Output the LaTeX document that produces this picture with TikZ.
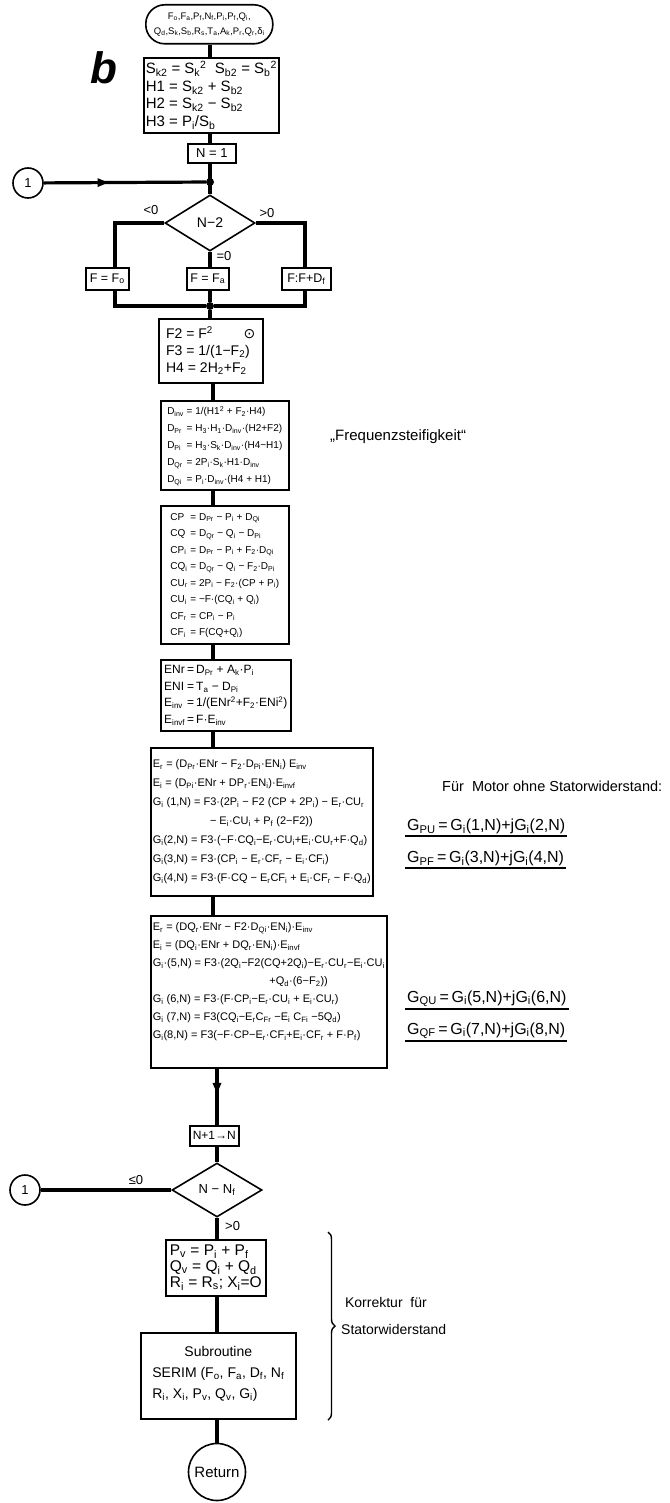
\documentclass[tikz,border=0pt]{standalone}
\usepackage{fontspec}
\setmainfont{Liberation Sans}
\newfontfamily\symfont{DejaVu Sans}
\usetikzlibrary{positioning, arrows.meta, shapes.geometric, decorations.markings, decorations.pathreplacing}
\newcommand{\sbs}[1]{\textsubscript{#1}}
\newcommand{\sps}[1]{\textsuperscript{#1}}

\begin{document}
\begin{tikzpicture}[
  x=1pt, y=-1pt,
  box/.style={
    rectangle, draw=black, line width=1.6pt, anchor=north west,
    align=left, inner sep=2pt, minimum width=#1
  },
  dia/.style={diamond, draw=black, line width=1.6pt, inner sep=0pt,
    minimum width=90pt, minimum height=56pt},
  con/.style={circle, draw=black, line width=1.6pt, inner sep=0pt, minimum size=#1},
  dot/.style={circle, fill=black, inner sep=0pt, minimum size=8pt},
  lbl/.style={inner sep=1pt, font=\fontsize{13}{15}\selectfont},
  note/.style={inner sep=2pt, anchor=west},
  ln/.style={line width=3.2pt},
  ul/.style={line width=1.8pt},
  midarr/.style={postaction={decorate}, decoration={markings,
    mark=at position #1 with {\arrow{Triangle[length=11pt, width=8pt]}}}},
]
\useasboundingbox (0,0) rectangle (669,1503);

%% routing columns
\coordinate (axT) at (210,0);
\coordinate (axL) at (115,0);
\coordinate (axR) at (305,0);
\coordinate (axM) at (213,0);
\coordinate (axB) at (217,0);

%% Input
\node[box=127pt, minimum height=39pt, rounded corners=19pt, align=center,
  inner sep=1pt, font=\fontsize{9.5}{15}\selectfont] (inp) at (145,4)
  {F\sbs{o},F\sbs{a},P\sbs{f},N\sbs{f},P\sbs{i},P\sbs{f},Q\sbs{i},\\
   Q\sbs{d},S\sbs{k},S\sbs{b},R\sbs{s},T\sbs{a},A\sbs{k},P\sbs{r},Q\sbs{r},δ\sbs{i}};

\node[font=\fontsize{44}{44}\selectfont\bfseries\itshape] (tag) at (104,68) {b};

%% Preparation
\node[box=129pt, minimum height=75pt, inner ysep=1pt,
  font=\fontsize{15}{17.5}\selectfont] (sk) at (143,57)
  {S\sbs{k2} = S\sbs{k}\sps{2}\ \ S\sbs{b2} = S\sbs{b}\sps{2}\\
   H1 = S\sbs{k2} + S\sbs{b2}\\
   H2 = S\sbs{k2} − S\sbs{b2}\\
   H3 = P\sbs{i}/S\sbs{b}};

\node[box=48pt, minimum height=19pt, inner sep=1pt, align=center,
  font=\fontsize{13}{15}\selectfont] (n1) at (187,143) {N = 1};

%% Loop entry and branch
\node[dot] (j1) at (210,182) {};
\node[con=30pt, font=\fontsize{13}{15}\selectfont] (c1) at (28,183) {1};
\node[dia, font=\fontsize{14}{16}\selectfont] (d1) at (210,223) {N−2};
\node[lbl] (lt) at (151,210) {<0};
\node[lbl] (gt) at (267,213) {>0};
\node[lbl] (eq) at (224,256) {=0};

\node[box=43pt, minimum height=22pt, inner sep=1pt,
  font=\fontsize{12.5}{14}\selectfont] (fo) at (85,267) {F = F\sbs{o}};
\node[box=42pt, minimum height=22pt, inner sep=1pt,
  font=\fontsize{12.5}{14}\selectfont] (fa) at (186,267) {F = F\sbs{a}};
\node[box=49pt, minimum height=22pt, inner sep=1pt,
  font=\fontsize{12.5}{14}\selectfont] (fd) at (281,267) {F:F+D\sbs{f}};
\node[dot] (j2) at (210,306) {};

%% Frequency terms
\node[box=104pt, minimum height=64pt, font=\fontsize{14}{17}\selectfont] (f2) at (158,318)
  {F2 = F\sps{2}\hspace{2.2em}{\symfont ⊙}\\
   F3 = 1/(1−F\sbs{2})\\
   H4 = 2H\sbs{2}+F\sbs{2}};

\node[box=128pt, minimum height=89pt, font=\fontsize{10}{17}\selectfont] (dinv) at (160,400)
  {\begin{tabular}{@{}l@{\ =\ }l@{}}
   D\sbs{inv} & 1/(H1\sps{2} + F\sbs{2}·H4)\\
   D\sbs{Pr} & H\sbs{3}·H\sbs{1}·D\sbs{inv}·(H2+F2)\\
   D\sbs{Pi} & H\sbs{3}·S\sbs{k}·D\sbs{inv}·(H4−H1)\\
   D\sbs{Qr} & 2P\sbs{i}·S\sbs{k}·H1·D\sbs{inv}\\
   D\sbs{Qi} & P\sbs{i}·D\sbs{inv}·(H4 + H1)
   \end{tabular}};
\node[note, font=\fontsize{15}{17}\selectfont] (frq) at (328,437) {„Frequenzsteifigkeit“};

\node[box=128pt, minimum height=138pt, font=\fontsize{10}{16.5}\selectfont] (cp) at (160,505)
  {\begin{tabular}{@{}l@{\ =\ }l@{}}
   CP & D\sbs{Pr} − P\sbs{i} + D\sbs{Qi}\\
   CQ & D\sbs{Qr} − Q\sbs{i} − D\sbs{Pi}\\
   CP\sbs{i} & D\sbs{Pr} − P\sbs{i} + F\sbs{2}·D\sbs{Qi}\\
   CQ\sbs{i} & D\sbs{Qr} − Q\sbs{i} − F\sbs{2}·D\sbs{Pi}\\
   CU\sbs{r} & 2P\sbs{i} − F\sbs{2}·(CP + P\sbs{i})\\
   CU\sbs{i} & −F·(CQ\sbs{i} + Q\sbs{i})\\
   CF\sbs{r} & CP\sbs{i} − P\sbs{i}\\
   CF\sbs{i} & F(CQ+Q\sbs{i})
   \end{tabular}};

\node[box=130pt, minimum height=71pt, font=\fontsize{12}{16.5}\selectfont] (enr) at (160,659)
  {\begin{tabular}{@{}l@{\,=\,}l@{}}
   ENr & D\sbs{Pr} + A\sbs{k}·P\sbs{i}\\
   ENI & T\sbs{a} − D\sbs{Pi}\\
   E\sbs{inv} & 1/(ENr\sps{2}+F\sbs{2}·ENi\sps{2})\\
   E\sbs{invf} & F·E\sbs{inv}
   \end{tabular}};

%% Sensitivities, part 1
\node[box=217pt, minimum height=148pt, font=\fontsize{11}{19}\selectfont] (er1) at (150,747)
  {E\sbs{r} = (D\sbs{Pr}·ENr − F\sbs{2}·D\sbs{Pi}·EN\sbs{i}) E\sbs{inv}\\
   E\sbs{i} = (D\sbs{Pi}·ENr + DP\sbs{r}·EN\sbs{i})·E\sbs{invf}\\
   G\sbs{i} (1,N) = F3·(2P\sbs{i} − F2 (CP + 2P\sbs{i}) − E\sbs{r}·CU\sbs{r}\\
   \hspace*{5.2em}− E\sbs{i}·CU\sbs{i} + P\sbs{f} (2−F2))\\
   G\sbs{i}(2,N) = F3·(−F·CQ\sbs{i}−E\sbs{r}·CU\sbs{i}+E\sbs{i}·CU\sbs{r}+F·Q\sbs{d})\\
   G\sbs{i}(3,N) = F3·(CP\sbs{i} − E\sbs{r}·CF\sbs{r} − E\sbs{i}·CF\sbs{i})\\
   G\sbs{i}(4,N) = F3·(F·CQ − E\sbs{r}CF\sbs{i} + E\sbs{i}·CF\sbs{r} − F·Q\sbs{d})};

\node[note, font=\fontsize{14.5}{17}\selectfont] (motor) at (440,786) {Für\ \ Motor ohne Statorwiderstand:};
\node[note, anchor=south west, font=\fontsize{16}{18}\selectfont] (gpu) at (405,836)
  {G\sbs{PU}\,=\,G\sbs{i}(1,N)+jG\sbs{i}(2,N)};
\node[note, anchor=south west, font=\fontsize{16}{18}\selectfont] (gpf) at (405,868)
  {G\sbs{PF}\,=\,G\sbs{i}(3,N)+jG\sbs{i}(4,N)};
\draw[ul] (gpu.south west) -- (gpu.south east);
\draw[ul] (gpf.south west) -- (gpf.south east);

%% Sensitivities, part 2
\node[box=219pt, minimum height=152pt, font=\fontsize{11}{18}\selectfont] (er2) at (150,915)
  {E\sbs{r} = (DQ\sbs{r}·ENr − F2·D\sbs{Qi}·EN\sbs{i})·E\sbs{inv}\\
   E\sbs{i} = (DQ\sbs{i}·ENr + DQ\sbs{r}·EN\sbs{i})·E\sbs{invf}\\
   G\sbs{i}·(5,N) = F3·(2Q\sbs{i}−F2(CQ+2Q\sbs{i})−E\sbs{r}·CU\sbs{r}−E\sbs{i}·CU\sbs{i}\\
   \hspace*{10.6em}+Q\sbs{d}·(6−F\sbs{2}))\\
   G\sbs{i} (6,N) = F3·(F·CP\sbs{i}−E\sbs{r}·CU\sbs{i} + E\sbs{i}·CU\sbs{r})\\
   G\sbs{i} (7,N) = F3(CQ\sbs{i}−E\sbs{r}C\sbs{Fr} −E\sbs{i} C\sbs{Fi} −5Q\sbs{d})\\
   G\sbs{i}(8,N) = F3(−F·CP−E\sbs{r}·CF\sbs{i}+E\sbs{i}·CF\sbs{r} + F·P\sbs{f})\\[4pt]};

\node[note, anchor=south west, font=\fontsize{16}{18}\selectfont] (gqu) at (405,1009)
  {G\sbs{QU}\,=\,G\sbs{i}(5,N)+jG\sbs{i}(6,N)};
\node[note, anchor=south west, font=\fontsize{16}{18}\selectfont] (gqf) at (405,1041)
  {G\sbs{QF}\,=\,G\sbs{i}(7,N)+jG\sbs{i}(8,N)};
\draw[ul] (gqu.south west) -- (gqu.south east);
\draw[ul] (gqf.south west) -- (gqf.south east);

%% Loop counter
\node[box=49pt, minimum height=20pt, inner sep=1pt, align=center,
  font=\fontsize{12}{14}\selectfont] (np) at (189,1125) {N+1→N};
\node[dia, minimum height=54pt, font=\fontsize{13}{15}\selectfont] (d2) at (217,1190) {N − N\sbs{f}};
\node[con=30pt, font=\fontsize{13}{15}\selectfont] (c2) at (25,1190) {1};
\node[lbl] (le) at (136,1180) {≤0};
\node[lbl, anchor=west] (gt2) at (224,1226) {>0};

%% Stator resistance correction
\node[box=100pt, minimum height=56pt, font=\fontsize{15.5}{16}\selectfont] (pv) at (165,1239)
  {P\sbs{v} = P\sbs{i} + P\sbs{f}\\
   Q\sbs{v} = Q\sbs{i} + Q\sbs{d}\\
   R\sbs{i} = R\sbs{s}; X\sbs{i}=O};
\node[box=155pt, minimum height=86pt, font=\fontsize{14}{21}\selectfont] (sub) at (140,1332)
  {\begin{tabular}{@{}l@{}}
   \multicolumn{1}{c}{Subroutine}\\
   SERIM (F\sbs{o}, F\sbs{a}, D\sbs{f}, N\sbs{f}\\
   R\sbs{i}, X\sbs{i}, P\sbs{v}, Q\sbs{v}, G\sbs{i})\\[6pt]
   \end{tabular}};
\node[con=57pt, font=\fontsize{15}{17}\selectfont] (ret) at (217,1472) {Return};

\coordinate (brT) at (328,1232);
\coordinate (brB) at (328,1420);
\draw[line width=1.4pt, decorate, decoration={brace, amplitude=7pt}] (brT) -- (brB);
\node[note, align=left, font=\fontsize{14}{27}\selectfont] (kor) at (339,1316)
  {\ Korrektur\ \ für\\Statorwiderstand};

%% Connectors
\draw[ln] (inp.south -| axT) -- (sk.north -| axT);
\draw[ln] (sk.south -| axT) -- (n1.north -| axT);
\draw[ln] (n1.south -| axT) -- (d1.north);
\draw[ln, midarr=0.4] (c1) -- (j1);
\draw[ln] (d1.west) -| (fo.north -| axL);
\draw[ln] (d1.east) -| (fd.north -| axR);
\draw[ln] (d1.south) -- (fa.north -| axT);
\draw[ln] (fo.south -| axL) |- (j2);
\draw[ln] (fd.south -| axR) |- (j2);
\draw[ln] (fa.south -| axT) -- (j2);
\draw[ln] (j2) -- (f2.north -| axT);
\draw[ln] (f2.south -| axM) -- (dinv.north -| axM);
\draw[ln] (dinv.south -| axM) -- (cp.north -| axM);
\draw[ln] (cp.south -| axM) -- (enr.north -| axM);
\draw[ln] (enr.south -| axM) -- (er1.north -| axM);
\draw[ln] (er1.south -| axM) -- (er2.north -| axM);
\draw[ln, midarr=0.45] (er2.south -| axB) -- (np.north -| axB);
\draw[ln] (np.south -| axB) -- (d2.north);
\draw[ln] (d2.west) -- (c2);
\draw[ln] (d2.south) -- (pv.north -| axB);
\draw[ln] (pv.south -| axB) -- (sub.north -| axB);
\draw[ln] (sub.south -| axB) -- (ret);

\end{tikzpicture}
\end{document}
